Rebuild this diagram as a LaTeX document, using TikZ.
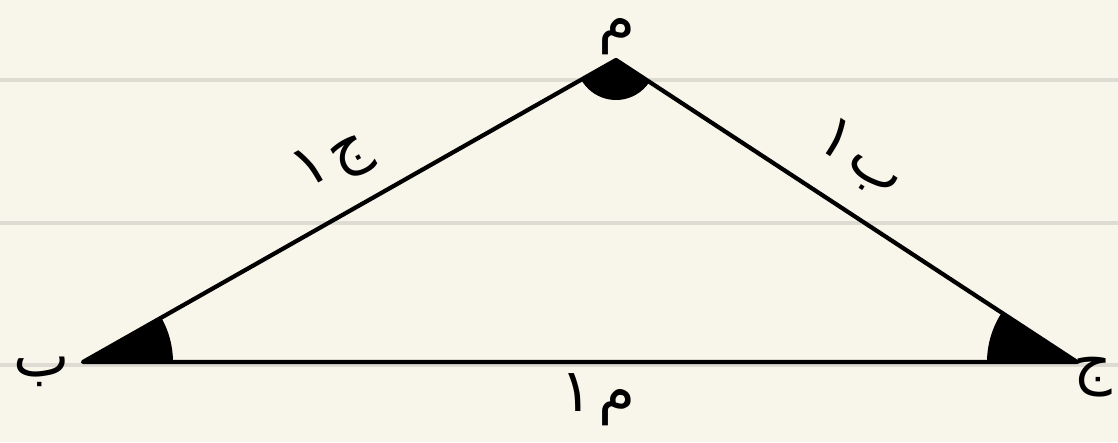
\documentclass[tikz,border=0pt]{standalone}
\usepackage{fontspec}
\newfontfamily\arabicfont[Script=Arabic]{DejaVu Sans}
\TeXXeTstate=1
\definecolor{paper}{HTML}{F8F5EA}
\definecolor{ruling}{HTML}{DEDBD3}

\begin{document}
\begin{tikzpicture}[line cap=round, line join=round, font=\arabicfont\fontsize{17}{17}\selectfont, inner sep=1pt]

  % parameters
  \def\rBase{0.9}   % radius of the marks at the base angles
  \def\rTop{0.40}   % radius of the mark at the top angle

  % page and ruled lines
  \useasboundingbox (0,0) rectangle (11.18,4.42);
  \fill[paper] (0,0) rectangle (11.18,4.42);
  \foreach \y in {3.62,2.19,0.77}
    \draw[ruling, line width=1.1pt] (0,\y) -- (11.18,\y);

  % vertices
  \coordinate (M) at (6.16,3.82);
  \coordinate (B) at (0.83,0.80);
  \coordinate (J) at (10.77,0.80);

  % directions of the sides
  \pgfmathsetmacro{\angB}{atan2(3.82-0.80, 6.16-0.83)}   % B -> M
  \pgfmathsetmacro{\angJ}{atan2(3.82-0.80, 6.16-10.77)}  % J -> M
  \pgfmathsetmacro{\angMB}{\angB+180}                    % M -> B
  \pgfmathsetmacro{\angMJ}{\angJ+180}                    % M -> J

  % angle marks (filled)
  \fill (B) -- ++(0:\rBase) arc[start angle=0, end angle=\angB, radius=\rBase] -- cycle;
  \fill (J) -- ++(\angJ:\rBase) arc[start angle=\angJ, end angle=180, radius=\rBase] -- cycle;
  \fill (M) -- ++(\angMB:\rTop) arc[start angle=\angMB, end angle=\angMJ, radius=\rTop] -- cycle;

  % triangle
  \draw[line width=1.2pt] (M) -- (B) -- (J) -- cycle;

  % vertex names
  \node (lblM) at (6.17,4.05) {\beginR م\endR};
  \node (lblB) at (0.42,0.70) {\beginR ب\endR};
  \node (lblJ) at (10.93,0.65) {\beginR ج\endR};

  % side names
  \node[rotate=\angB] (sideMB) at (3.33,2.80) {\beginR ج\kern1.5pt ١\endR};
  \node[rotate=\angMJ] (sideMJ) at (8.60,2.82) {\beginR ب\kern1.5pt ١\endR};
  \node (sideBJ) at (5.98,0.42) {\beginR م\kern1.5pt ١\endR};

\end{tikzpicture}
\end{document}
